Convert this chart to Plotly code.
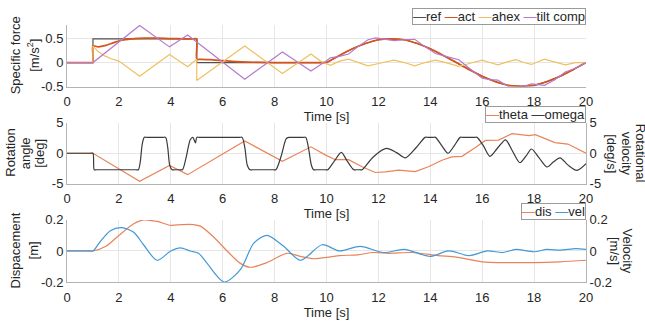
import plotly.graph_objects as go

# ---------------- data ----------------
ref_t = [0, 1, 1, 5, 5, 10, 10.5, 11, 11.5, 12, 12.5, 13, 13.5, 14, 14.5, 15,
         15.5, 16, 16.5, 17, 17.5, 18, 18.5, 19, 19.5, 20]
ref_v = [0, 0, 0.5, 0.5, 0, 0, 0.15, 0.29, 0.40, 0.48, 0.50, 0.48, 0.40, 0.29, 0.15, 0,
         -0.15, -0.29, -0.40, -0.48, -0.50, -0.48, -0.40, -0.29, -0.15, 0]

act_t = [0, 0.9, 1, 1, 1.2, 1.5, 1.8, 2.1, 2.5, 3, 3.5, 4, 4.5, 4.9, 5, 5, 5.1, 5.5, 6, 6.5,
         7, 8, 9.9, 10, 10.5, 11, 11.5, 12, 12.5, 13, 13.5, 14, 14.5, 15, 15.5, 16, 16.5,
         17, 17.5, 18, 18.5, 19, 19.5, 20]
act_v = [0, 0, 0, 0.35, 0.33, 0.36, 0.42, 0.47, 0.50, 0.515, 0.515, 0.505, 0.50, 0.50,
         0.50, 0.07, 0.068, 0.06, 0.04, 0.02, 0.01, 0.0, 0.0, 0.0,
         0.15, 0.29, 0.40, 0.48, 0.50, 0.48, 0.40, 0.29, 0.15, 0,
         -0.15, -0.29, -0.40, -0.48, -0.50, -0.48, -0.40, -0.29, -0.15, 0]

ahex_t = [0, 1, 1, 1.2, 1.45, 1.7, 2.0, 2.8, 3.95, 4.65, 5.0, 5.0, 6.85, 8.3, 9.4, 9.8,
          10.15, 10.5, 10.85, 11.2, 11.6, 12.1, 12.6, 13.0, 13.4, 13.8, 14.2, 14.6, 15.1,
          15.5, 16.0, 16.3, 16.6, 17.0, 17.3, 17.6, 17.9, 18.4, 18.8, 19.2, 19.6, 20]
ahex_v = [0, 0, 0.35, 0.23, 0.14, 0.08, 0.03, -0.29, 0.17, -0.09, 0.07, -0.38, 0.35, -0.23,
          0.18, 0.02, -0.06, 0.03, 0.07, 0.0, -0.07, -0.01, 0.05, 0.0, -0.07, 0.0, 0.05,
          0.0, -0.08, -0.02, 0.05, 0.0, -0.05, 0.02, 0.06, 0.0, -0.04, 0.07, 0.01, -0.05,
          0.0, 0.0]

tilt_t = [0, 1, 2.8, 3.95, 4.65, 6.85, 8.3, 9.4, 10.0, 10.15, 10.5, 10.85, 11.2, 11.6,
          11.9, 12.1, 12.6, 13.0, 13.4, 13.8, 14.2, 14.6, 15.1, 15.5, 16.0, 16.3, 16.6,
          17.0, 17.3, 17.6, 17.9, 18.4, 18.8, 19.2, 19.6, 20]
tilt_v = [0, 0, 0.78, 0.33, 0.58, -0.35, 0.22, -0.18, 0.04, 0.1, 0.13, 0.18, 0.33, 0.48,
          0.52, 0.50, 0.46, 0.48, 0.49, 0.33, 0.19, 0.13, 0.06, -0.12, -0.33, -0.36, -0.37,
          -0.5, -0.53, -0.5, -0.45, -0.48, -0.36, -0.2, -0.12, 0.0]

theta_t = [0, 1, 2.8, 3.95, 4.65, 6.85, 8.3, 9.4, 9.95, 10.34, 10.85, 11.37, 11.88, 12.27,
           12.78, 13.42, 13.93, 14.45, 14.83, 15.22, 15.74, 16.12, 16.63, 17.15, 17.8,
           18.05, 18.8, 19.3, 20]
theta_v = [0, 0, -4.6, -2.0, -3.5, 2.0, -1.3, 1.05, -0.26, -1.05, -1.05, -2.2, -3.15,
           -3.05, -2.75, -3.0, -2.2, -1.15, -0.6, -0.5, 0.95, 2.1, 2.15, 3.2, 2.9, 3.05,
           1.75, 1.5, 0.0]

omega_t = [0, 0.9, 1, 1.05, 1.15, 2.65, 2.75, 2.82, 2.9, 2.98, 3.08, 3.7, 3.8, 3.88, 3.96,
           4.05, 4.15, 4.35, 4.45, 4.6, 4.75, 4.85, 4.95, 5.0, 5.1, 6.65, 6.75, 6.85, 6.95,
           7.05, 7.15, 7.95, 8.05, 8.25, 8.45, 8.55, 8.65, 9.1, 9.2, 9.3, 9.42, 9.5, 9.6,
           9.95, 10.05, 10.3, 10.57, 10.8, 11.05, 11.15, 11.27, 11.37, 11.8, 12.3, 12.7,
           13.04, 13.45, 13.8, 13.9, 14.1, 14.2, 14.45, 14.68, 14.92, 15.15, 15.25, 15.7,
           15.8, 16.05, 16.3, 16.6, 16.9, 17.15, 17.45, 17.7, 17.9, 18.2, 18.5, 18.75,
           19.0, 19.3, 19.65, 20.0]
omega_v = [0, 0, 0, -2.7, -2.7, -2.7, -2.7, -1.5, 1.5, 2.6, 2.6, 2.6, 2.6, 1.0, -2.0,
           -2.7, -2.7, -2.7, -2.7, -0.5, 2.2, 2.6, 1.7, 2.6, 2.6, 2.6, 2.6, 1.0, -2.0,
           -2.7, -2.7, -2.7, -2.7, -0.5, 2.4, 2.6, 2.6, 2.6, 2.6, 1.0, -2.0, -2.7, -2.7,
           -2.7, -2.7, -1.3, 0.15, -1.3, -2.7, -2.7, -2.7, -2.7, -0.6, 0.8, 0.1,
           -0.75, 0.9, 2.6, 2.6, 2.6, 2.6, 1.2, 0.0, 1.2, 2.6, 2.6, 2.6,
           2.6, 1.2, -0.5, 0.9, 2.2, 0.5, -1.55, -0.4, 0.7, -0.8, -2.25, -1.4,
           -0.75, -1.9, -2.8, -1.7]

dis_t = [0, 0.9, 1, 1.5, 2.0, 2.57, 2.95, 3.47, 4.0, 4.43, 4.88, 5.14, 5.65, 6.17, 6.68,
         7.07, 7.7, 8.48, 8.99, 9.5, 10.15, 10.5, 11.2, 11.8, 12.4, 13.3, 14.3, 15.0, 16.0,
         17.0, 18.0, 19.0, 20.0]
dis_v = [0, 0, 0, 0.03, 0.1, 0.175, 0.2, 0.19, 0.165, 0.17, 0.17, 0.16, 0.09, 0.0, -0.08,
         -0.105, -0.075, -0.015, -0.035, -0.05, -0.038, -0.03, -0.025, -0.01, -0.015,
         -0.01, -0.03, -0.04, -0.07, -0.075, -0.075, -0.07, -0.06]

vel_t = [0, 0.9, 1, 1.28, 1.67, 2.1, 2.57, 2.95, 3.47, 4.0, 4.37, 4.75, 5.07, 5.4, 6.06,
         6.68, 7.2, 7.7, 8.35, 9.0, 9.83, 10.5, 11.3, 12.2, 13.0, 14.0, 14.7, 15.5, 16.2,
         16.8, 17.3, 18.0, 18.5, 19.0, 19.6, 20]
vel_v = [0, 0, 0, 0.06, 0.13, 0.15, 0.12, 0.04, -0.06, 0.0, 0.02, 0.0, -0.015, -0.08, -0.2,
         -0.12, 0.05, 0.1, 0.03, -0.06, 0.04, 0.0, 0.03, -0.01, 0.01, -0.035, 0.0, -0.03,
         0.0, -0.01, 0.01, -0.005, 0.01, 0.005, 0.015, 0.01]

x_ticks = [0, 2, 4, 6, 8, 10, 12, 14, 16, 18, 20]
f_ticks = [-0.5, 0, 0.5]
f_labels = ["-0.5", "0", "0.5"]
ang_ticks = [-5, 0, 5]
ang_labels = ["-5", "0", "5"]
d_ticks = [-0.2, 0, 0.2]
d_labels = ["-0.2", "0", "0.2"]

# ---------------- styling ----------------
FONT = "Liberation Sans, Arial, sans-serif"
TXT = "#262626"
GRID = "#e6e6e6"
AXL = "#b4b4b4"

C_REF, C_ACT, C_AHEX, C_TILT = "#505050", "#d95319", "#f0c060", "#b57ac9"
C_THETA, C_OMEGA = "#e8845a", "#3a3a3a"
C_DIS, C_VEL = "#e8845a", "#4199d6"

fig = go.Figure()

def add(t, v, name, color, xa, ya, width=1.2, shape="spline"):
    fig.add_trace(go.Scatter(x=t, y=v, name=name, mode="lines", xaxis=xa, yaxis=ya,
                             line=dict(color=color, width=width, shape=shape,
                                       smoothing=0.8),
                             showlegend=False, hoverinfo="skip"))

add(ref_t, ref_v, "ref", C_REF, "x", "y", 1.2, "linear")
add(act_t, act_v, "act", C_ACT, "x", "y", 1.7)
add(ahex_t, ahex_v, "ahex", C_AHEX, "x", "y", 1.2, "linear")
add(tilt_t, tilt_v, "tilt comp", C_TILT, "x", "y", 1.2, "linear")
add(theta_t, theta_v, "theta", C_THETA, "x2", "y2", 1.2, "linear")
add(omega_t, omega_v, "omega", C_OMEGA, "x2", "y3", 1.2)
add(dis_t, dis_v, "dis", C_DIS, "x3", "y4", 1.2)
add(vel_t, vel_v, "vel", C_VEL, "x3", "y5", 1.2)

tickfont = dict(family=FONT, size=13, color=TXT)

def xax(anchor):
    return dict(domain=[0, 1], anchor=anchor, range=[0, 20], tickvals=x_ticks,
                showgrid=True, gridcolor=GRID, zeroline=False, showline=True,
                linecolor=AXL, ticks="", tickfont=tickfont, ticklabelstandoff=3,
                title=dict(text="Time [s]", font=tickfont, standoff=0))

def yax(domain, anchor, rng, tv, tt, side="left", overlay=None, grid=True):
    d = dict(anchor=anchor, range=rng, tickvals=tv, ticktext=tt, showgrid=grid,
             gridcolor=GRID, zeroline=False, showline=True, linecolor=AXL, ticks="",
             tickfont=tickfont, side=side)
    if overlay:
        d["overlaying"] = overlay
    else:
        d["domain"] = domain
    return d

D_TOP = [0.7603, 1.0]
D_MID = [0.382, 0.6199]
D_BOT = [0.0, 0.2416]

PLOT_W = 519.0
LEFT = 67
fig.update_layout(
    width=645, height=326,
    margin=dict(l=67, r=59, t=25, b=34),
    paper_bgcolor="white", plot_bgcolor="white",
    font=dict(family=FONT, size=13, color=TXT),
    xaxis=xax("y"), xaxis2=xax("y2"), xaxis3=xax("y4"),
    yaxis=yax(D_TOP, "x", [-0.506, 0.79], f_ticks, f_labels),
    yaxis2=yax(D_MID, "x2", [-5, 5], ang_ticks, ang_labels),
    yaxis3=yax(None, "x2", [-5, 5], ang_ticks, ang_labels, "right", "y2", False),
    yaxis4=yax(D_BOT, "x3", [-0.2, 0.2], d_ticks, d_labels),
    yaxis5=yax(None, "x3", [-0.2, 0.2], d_ticks, d_labels, "right", "y4", False),
)

def ytitle(lines, pxs, ymid, angle):
    for text, px in zip(lines, pxs):
        fig.add_annotation(text=text, xref="paper", yref="paper", x=(px - LEFT) / PLOT_W,
                           y=ymid, xanchor="center", yanchor="middle", textangle=angle,
                           showarrow=False, font=dict(family=FONT, size=13, color=TXT))

ytitle(["Specific force", "[m/s<sup>2</sup>]"], [15.5, 33], sum(D_TOP) / 2, -90)
ytitle(["Rotation", "angle", "[deg]"], [10.5, 25, 39.5], sum(D_MID) / 2, -90)
ytitle(["Dispacement", "[m]"], [15.5, 33.5], sum(D_BOT) / 2, -90)
ytitle(["Rotational", "velocity", "[deg/s]"], [640.5, 626.5, 612], sum(D_MID) / 2, 90)
ytitle(["Velocity", "[m/s]"], [627.5, 614], sum(D_BOT) / 2, 90)

def legend(names, colors, ytop):
    parts = ['<span style="color:%s">\u2014</span>%s' % (c, n) for n, c in zip(names, colors)]
    fig.add_annotation(text=" ".join(parts), xref="paper", yref="paper", x=1, y=ytop,
                       xanchor="right", yanchor="bottom", showarrow=False, height=15,
                       valign="middle", bgcolor="white", bordercolor="#9a9a9a",
                       borderwidth=1, borderpad=0,
                       font=dict(family=FONT, size=13, color=TXT))

legend(["ref", "act", "ahex", "tilt comp"], [C_REF, C_ACT, C_AHEX, C_TILT], D_TOP[1])
legend(["theta", "omega"], [C_THETA, C_OMEGA], D_MID[1])
legend(["dis", "vel"], [C_DIS, C_VEL], D_BOT[1])

# remove the page's default 8 px body margin so the figure fills the window exactly
fig.write_html("out.html", config={"displayModeBar": False},
               post_script="document.body.style.margin='0px';")
